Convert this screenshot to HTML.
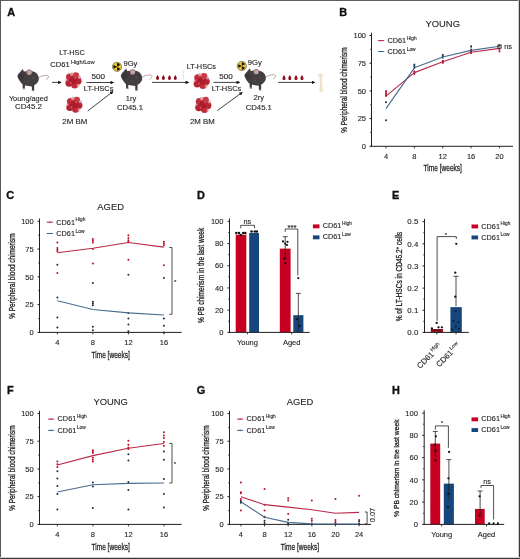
<!DOCTYPE html><html><head><meta charset="utf-8"><style>html,body{margin:0;padding:0;background:#fff;}svg{display:block;filter:blur(0.3px);}text{stroke:#231f20;stroke-width:0.12px;}.tt{stroke-width:0.3px;}</style></head><body>
<div style="position:relative;width:520px;height:559px;overflow:hidden">
<svg width="520" height="559" viewBox="0 0 520 559" font-family='"Liberation Sans", sans-serif'>
<rect x="0" y="0" width="520" height="559" fill="#fff"/>
<defs>
<g id="mouse">
  <path d="M38.6,77.6 C41.0,76.2 44.3,75.0 47.3,75.4 C49.4,75.8 48.9,78.0 46.3,79.4" fill="none" stroke="#b59896" stroke-width="0.9" stroke-linecap="round"/>
  <path d="M22.6,83.5 L22.7,88.4 L24.8,88.6 L25.0,84.0 Z" fill="#3e3a3b"/>
  <path d="M31.8,85.0 L31.9,90.3 L34.1,90.5 L34.2,84.8 Z" fill="#3e3a3b"/>
  <ellipse cx="23.9" cy="88.8" rx="1.5" ry="0.6" fill="#a98c86"/>
  <ellipse cx="33.2" cy="90.7" rx="1.5" ry="0.6" fill="#a98c86"/>
  <path d="M22.7,68.9 L23.9,71.5 L26.6,71.2 L31.5,71.0 C34.0,71.6 36.5,72.8 37.6,74.6 C38.9,76.6 39.2,79.5 38.3,81.2 C37.5,82.8 36.4,84.0 35.3,84.6 L31.5,86.4 L25.5,85.4 L21.8,83.8 C20.8,82.6 19.8,81.5 18.8,79.6 C18.0,78.2 17.2,76.6 17.5,75.3 C18.3,73.8 19.6,72.5 20.6,71.5 Z" fill="#433f40"/>
  <path d="M19.5,74 C21,73 23,73.5 24,75.5 C24.5,77.5 23,79.5 21,80 C19.5,79 18.5,76.5 19.5,74 Z" fill="#3a3637"/>
  <circle cx="33" cy="78" r="1.4" fill="#4d4849"/>
  <circle cx="28" cy="81.5" r="1.6" fill="#4b4647"/>
  <ellipse cx="29.2" cy="72.2" rx="2.7" ry="2.9" fill="#a68884"/>
  <ellipse cx="29.4" cy="72.5" rx="1.8" ry="2.0" fill="#c6a8a2"/>
</g>
<g id="cluster">
  <circle cx="-3.6" cy="-3.2" r="3.6" fill="#c02d3c"/>
  <circle cx="2.6" cy="-4.6" r="3.4" fill="#c83a48"/>
  <circle cx="4.8" cy="0.6" r="3.6" fill="#b92434"/>
  <circle cx="1.5" cy="4.6" r="3.5" fill="#c02c3a"/>
  <circle cx="-4.2" cy="2.8" r="3.6" fill="#b52232"/>
  <circle cx="0" cy="0" r="3.6" fill="#ad1c2c"/>
  <circle cx="-1.5" cy="-6.2" r="1.8" fill="#e0a0a4" opacity="0.8"/>
  <circle cx="6.2" cy="-3.0" r="1.6" fill="#dd9ca0" opacity="0.8"/>
  <circle cx="5.0" cy="5.2" r="1.6" fill="#e2a6aa" opacity="0.7"/>
  <circle cx="-6.5" cy="0" r="1.4" fill="#d88890" opacity="0.6"/>
  <circle cx="-1.2" cy="-1.2" r="1.3" fill="#a81c2c"/>
  <circle cx="2.2" cy="1.8" r="1.2" fill="#a81c2c"/>
  <circle cx="-2.6" cy="2.6" r="1.0" fill="#d25a64"/>
  <circle cx="2.0" cy="-2.4" r="1.0" fill="#d25a64"/>
</g>
<g id="rad">
  <circle cx="0" cy="0" r="4.6" fill="#e8c93c" stroke="#3a3010" stroke-width="0.5"/>
  <path d="M0,0 L3.7,0 A3.7,3.7 0 0 0 1.85,-3.2 Z" fill="#1a1608" transform="rotate(-30)"/>
  <path d="M0,0 L3.7,0 A3.7,3.7 0 0 0 1.85,-3.2 Z" fill="#1a1608" transform="rotate(90)"/>
  <path d="M0,0 L3.7,0 A3.7,3.7 0 0 0 1.85,-3.2 Z" fill="#1a1608" transform="rotate(210)"/>
  <circle cx="0" cy="0" r="0.9" fill="#e6c63a"/>
  <circle cx="0" cy="0" r="0.6" fill="#1a1608"/>
</g>
<path id="drop" d="M0,-2.7 C0.6,-1.6 1.5,-0.6 1.5,0.6 C1.5,1.6 0.8,2.3 0,2.3 C-0.8,2.3 -1.5,1.6 -1.5,0.6 C-1.5,-0.6 -0.6,-1.6 0,-2.7 Z" fill="#8e1122"/>
<marker id="ah" viewBox="0 0 6 6" refX="5" refY="3" markerWidth="3.7" markerHeight="3.5" orient="auto" markerUnits="userSpaceOnUse"><path d="M0,0 L6,3 L0,6 Z" fill="#111"/></marker>
</defs>
<use href="#mouse"/>
<use href="#mouse" transform="translate(103.4,-0.4)"/>
<use href="#mouse" transform="translate(227.0,-0.6)"/>
<use href="#cluster" transform="translate(73.2,80.3)"/>
<use href="#cluster" transform="translate(74.1,104.7)"/>
<use href="#cluster" transform="translate(201.4,81.0)"/>
<use href="#cluster" transform="translate(203.0,104.8)"/>
<use href="#rad" transform="translate(117.0,66.8)"/>
<use href="#rad" transform="translate(241.8,66.0)"/>
<use href="#drop" transform="translate(157.6,77.6)"/>
<use href="#drop" transform="translate(163.4,77.6)"/>
<use href="#drop" transform="translate(169.5,77.6)"/>
<use href="#drop" transform="translate(175.3,77.6)"/>
<use href="#drop" transform="translate(284.0,77.8)"/>
<use href="#drop" transform="translate(289.8,77.8)"/>
<use href="#drop" transform="translate(296.0,77.8)"/>
<use href="#drop" transform="translate(302.0,77.8)"/>
<line x1="52.0" y1="82.4" x2="61.0" y2="82.4" stroke="#111" stroke-width="0.8" marker-end="url(#ah)"/>
<line x1="86.5" y1="82.5" x2="113.5" y2="82.5" stroke="#111" stroke-width="0.8" marker-end="url(#ah)"/>
<line x1="87.7" y1="111.0" x2="113.0" y2="91.5" stroke="#111" stroke-width="0.8" marker-end="url(#ah)"/>
<line x1="151.9" y1="82.4" x2="188.5" y2="82.4" stroke="#111" stroke-width="0.8" marker-end="url(#ah)"/>
<line x1="213.5" y1="82.4" x2="239.5" y2="82.4" stroke="#111" stroke-width="0.8" marker-end="url(#ah)"/>
<line x1="217.3" y1="110.6" x2="242.2" y2="92.4" stroke="#111" stroke-width="0.8" marker-end="url(#ah)"/>
<line x1="278.2" y1="82.4" x2="314.7" y2="82.4" stroke="#111" stroke-width="0.8" marker-end="url(#ah)"/>
<line x1="183.3" y1="70" x2="183.3" y2="79.8" stroke="#d8d8d8" stroke-width="0.7"/>
<path d="M319.3,74.2 C320.3,73.2 321.6,73.6 321.5,74.8 C322.7,74.3 323.6,75.6 322.4,76.6 C321.6,77.3 321.4,78 321.6,80 L322.3,88.8 C323.5,89.4 323.4,91.4 322.1,91.4 C321.6,92.4 319.9,92.2 320.1,91.0 C319.3,90.6 319.4,89.5 320.1,88.9 L319.9,79.5 C319.9,77.9 319.6,77.0 318.8,76.3 C317.8,75.4 318.4,73.9 319.3,74.2 Z" fill="#efe6cc" stroke="#e2d7b8" stroke-width="0.4"/>
<text x="72.00" y="55.20" font-size="7.5" text-anchor="middle" fill="#231f20" textLength="25.7" lengthAdjust="spacingAndGlyphs" >LT-HSC</text>
<text x="50.2" y="66.9" font-size="7.5" fill="#231f20"><tspan textLength="19.6" lengthAdjust="spacingAndGlyphs">CD61</tspan><tspan x="71.0" y="64.0" font-size="5.6" textLength="23.6" lengthAdjust="spacingAndGlyphs">High/Low</tspan></text>
<text x="28.40" y="100.60" font-size="7.5" text-anchor="middle" fill="#231f20" textLength="39.0" lengthAdjust="spacingAndGlyphs" >Young/aged</text>
<text x="28.50" y="109.30" font-size="7.5" text-anchor="middle" fill="#231f20" textLength="26.9" lengthAdjust="spacingAndGlyphs" >CD45.2</text>
<text x="98.30" y="78.80" font-size="7.5" text-anchor="middle" fill="#231f20" textLength="13.5" lengthAdjust="spacingAndGlyphs" >500</text>
<text x="98.60" y="91.20" font-size="7.5" text-anchor="middle" fill="#231f20" textLength="29.6" lengthAdjust="spacingAndGlyphs" >LT-HSCs</text>
<text x="74.80" y="124.00" font-size="7.5" text-anchor="middle" fill="#231f20" textLength="25.1" lengthAdjust="spacingAndGlyphs" >2M BM</text>
<text x="130.40" y="65.60" font-size="7.5" text-anchor="middle" fill="#231f20" textLength="14.0" lengthAdjust="spacingAndGlyphs" >9Gy</text>
<text x="131.00" y="101.30" font-size="7.5" text-anchor="middle" fill="#231f20" >1ry</text>
<text x="130.00" y="110.20" font-size="7.5" text-anchor="middle" fill="#231f20" textLength="26.0" lengthAdjust="spacingAndGlyphs" >CD45.1</text>
<text x="201.40" y="68.60" font-size="7.5" text-anchor="middle" fill="#231f20" textLength="29.3" lengthAdjust="spacingAndGlyphs" >LT-HSCs</text>
<text x="202.40" y="124.00" font-size="7.5" text-anchor="middle" fill="#231f20" textLength="24.8" lengthAdjust="spacingAndGlyphs" >2M BM</text>
<text x="226.00" y="78.80" font-size="7.5" text-anchor="middle" fill="#231f20" textLength="13.5" lengthAdjust="spacingAndGlyphs" >500</text>
<text x="226.50" y="91.20" font-size="7.5" text-anchor="middle" fill="#231f20" textLength="29.6" lengthAdjust="spacingAndGlyphs" >LT-HSCs</text>
<text x="254.80" y="65.20" font-size="7.5" text-anchor="middle" fill="#231f20" textLength="14.0" lengthAdjust="spacingAndGlyphs" >9Gy</text>
<text x="258.80" y="100.30" font-size="7.5" text-anchor="middle" fill="#231f20" >2ry</text>
<text x="258.80" y="110.00" font-size="7.5" text-anchor="middle" fill="#231f20" textLength="26.3" lengthAdjust="spacingAndGlyphs" >CD45.1</text>
<text x="7.20" y="15.90" font-size="10.9" text-anchor="start" fill="#111" font-weight="bold" style="stroke:#111;stroke-width:0.35px">A</text>
<text x="339.20" y="16.00" font-size="10.9" text-anchor="start" fill="#111" font-weight="bold" style="stroke:#111;stroke-width:0.35px">B</text>
<text x="6.30" y="198.60" font-size="10.9" text-anchor="start" fill="#111" font-weight="bold" style="stroke:#111;stroke-width:0.35px">C</text>
<text x="196.90" y="198.50" font-size="10.9" text-anchor="start" fill="#111" font-weight="bold" style="stroke:#111;stroke-width:0.35px">D</text>
<text x="392.00" y="198.50" font-size="10.9" text-anchor="start" fill="#111" font-weight="bold" style="stroke:#111;stroke-width:0.35px">E</text>
<text x="7.10" y="393.60" font-size="10.9" text-anchor="start" fill="#111" font-weight="bold" style="stroke:#111;stroke-width:0.35px">F</text>
<text x="196.70" y="393.60" font-size="10.9" text-anchor="start" fill="#111" font-weight="bold" style="stroke:#111;stroke-width:0.35px">G</text>
<text x="391.90" y="394.30" font-size="10.9" text-anchor="start" fill="#111" font-weight="bold" style="stroke:#111;stroke-width:0.35px">H</text>
<text x="442.75" y="26.50" font-size="9.4" text-anchor="middle" fill="#231f20" >YOUNG</text>
<line x1="371.50" y1="32.70" x2="371.50" y2="146.75" stroke="#231f20" stroke-width="1.0" />
<line x1="369.50" y1="146.30" x2="371.50" y2="146.30" stroke="#231f20" stroke-width="1.0" />
<text x="366.00" y="148.96" font-size="7.5" text-anchor="end" fill="#231f20" >0</text>
<line x1="369.50" y1="118.60" x2="371.50" y2="118.60" stroke="#231f20" stroke-width="1.0" />
<text x="366.00" y="121.26" font-size="7.5" text-anchor="end" fill="#231f20" >25</text>
<line x1="369.50" y1="90.90" x2="371.50" y2="90.90" stroke="#231f20" stroke-width="1.0" />
<text x="366.00" y="93.56" font-size="7.5" text-anchor="end" fill="#231f20" >50</text>
<line x1="369.50" y1="63.20" x2="371.50" y2="63.20" stroke="#231f20" stroke-width="1.0" />
<text x="366.00" y="65.86" font-size="7.5" text-anchor="end" fill="#231f20" >75</text>
<line x1="369.50" y1="35.50" x2="371.50" y2="35.50" stroke="#231f20" stroke-width="1.0" />
<text x="366.00" y="38.16" font-size="7.5" text-anchor="end" fill="#231f20" >100</text>
<line x1="370.20" y1="132.45" x2="371.50" y2="132.45" stroke="#231f20" stroke-width="0.8" />
<line x1="370.20" y1="104.75" x2="371.50" y2="104.75" stroke="#231f20" stroke-width="0.8" />
<line x1="370.20" y1="77.05" x2="371.50" y2="77.05" stroke="#231f20" stroke-width="0.8" />
<line x1="370.20" y1="49.35" x2="371.50" y2="49.35" stroke="#231f20" stroke-width="0.8" />
<line x1="371.00" y1="146.30" x2="513.00" y2="146.30" stroke="#231f20" stroke-width="1.0" />
<line x1="386.00" y1="146.30" x2="386.00" y2="148.30" stroke="#231f20" stroke-width="0.9" />
<text x="386.00" y="158.80" font-size="7.5" text-anchor="middle" fill="#231f20" >4</text>
<line x1="414.38" y1="146.30" x2="414.38" y2="148.30" stroke="#231f20" stroke-width="0.9" />
<text x="414.38" y="158.80" font-size="7.5" text-anchor="middle" fill="#231f20" >8</text>
<line x1="442.75" y1="146.30" x2="442.75" y2="148.30" stroke="#231f20" stroke-width="0.9" />
<text x="442.75" y="158.80" font-size="7.5" text-anchor="middle" fill="#231f20" >12</text>
<line x1="471.12" y1="146.30" x2="471.12" y2="148.30" stroke="#231f20" stroke-width="0.9" />
<text x="471.12" y="158.80" font-size="7.5" text-anchor="middle" fill="#231f20" >16</text>
<line x1="499.50" y1="146.30" x2="499.50" y2="148.30" stroke="#231f20" stroke-width="0.9" />
<text x="499.50" y="158.80" font-size="7.5" text-anchor="middle" fill="#231f20" >20</text>
<text x="442.75" y="171.00" font-size="9.6" text-anchor="middle" fill="#231f20" textLength="38.3" lengthAdjust="spacingAndGlyphs" class="tt">Time [weeks]</text>
<text x="347.20" y="90.10" font-size="8.4" text-anchor="middle" fill="#231f20" textLength="85.3" lengthAdjust="spacingAndGlyphs" transform="rotate(-90 347.20 90.10)" class="tt">% Peripheral blood chimerism</text>
<line x1="377.90" y1="40.60" x2="384.20" y2="40.60" stroke="#b8294a" stroke-width="1.0" />
<circle cx="381.05" cy="40.60" r="0.8" fill="#b8294a"/>
<text x="387.50" y="42.90" font-size="7.3" text-anchor="start" fill="#231f20">CD61<tspan dx="0.6" dy="-3.29" font-size="4.82">High</tspan></text>
<line x1="377.90" y1="51.50" x2="384.20" y2="51.50" stroke="#4a6c8e" stroke-width="1.0" />
<circle cx="381.05" cy="51.50" r="0.8" fill="#4a6c8e"/>
<text x="387.50" y="53.80" font-size="7.3" text-anchor="start" fill="#231f20">CD61<tspan dx="0.6" dy="-3.29" font-size="4.82">Low</tspan></text>
<circle cx="386.00" cy="91.45" r="1.0" fill="#c0102a"/>
<circle cx="386.00" cy="93.45" r="1.0" fill="#c0102a"/>
<circle cx="386.00" cy="95.33" r="1.0" fill="#c0102a"/>
<circle cx="414.38" cy="71.84" r="1.0" fill="#c0102a"/>
<circle cx="414.38" cy="73.73" r="1.0" fill="#c0102a"/>
<circle cx="442.75" cy="61.09" r="1.0" fill="#c0102a"/>
<circle cx="442.75" cy="62.87" r="1.0" fill="#c0102a"/>
<circle cx="471.12" cy="51.57" r="1.0" fill="#c0102a"/>
<circle cx="471.12" cy="53.01" r="1.0" fill="#c0102a"/>
<circle cx="499.50" cy="49.46" r="1.0" fill="#c0102a"/>
<circle cx="499.50" cy="51.57" r="1.0" fill="#c0102a"/>
<circle cx="386.00" cy="102.31" r="1.0" fill="#1c2a44"/>
<circle cx="386.00" cy="120.26" r="1.0" fill="#1c2a44"/>
<circle cx="414.38" cy="64.64" r="1.0" fill="#1c2a44"/>
<circle cx="414.38" cy="66.41" r="1.0" fill="#1c2a44"/>
<circle cx="442.75" cy="54.89" r="1.0" fill="#1c2a44"/>
<circle cx="442.75" cy="56.55" r="1.0" fill="#1c2a44"/>
<circle cx="471.12" cy="46.25" r="1.0" fill="#1c2a44"/>
<circle cx="471.12" cy="50.35" r="1.0" fill="#1c2a44"/>
<circle cx="499.50" cy="45.47" r="1.0" fill="#1c2a44"/>
<polyline points="386.00,96.11 414.38,72.62 442.75,61.65 471.12,52.23 499.50,48.35" fill="none" stroke="#b8294a" stroke-width="1.1" stroke-linejoin="round"/>
<polyline points="386.00,108.63 414.38,67.85 442.75,57.00 471.12,50.35 499.50,46.25" fill="none" stroke="#4a6c8e" stroke-width="1.1" stroke-linejoin="round"/>
<line x1="414.38" y1="63.75" x2="414.38" y2="68.74" stroke="#1d4468" stroke-width="1.3" stroke-dasharray="1.3 0.5"/>
<line x1="414.38" y1="70.40" x2="414.38" y2="74.83" stroke="#a8183a" stroke-width="1.3" stroke-dasharray="1.3 0.5"/>
<line x1="442.75" y1="54.34" x2="442.75" y2="58.77" stroke="#1d4468" stroke-width="1.3" stroke-dasharray="1.3 0.5"/>
<line x1="442.75" y1="59.88" x2="442.75" y2="63.75" stroke="#a8183a" stroke-width="1.3" stroke-dasharray="1.3 0.5"/>
<line x1="471.12" y1="47.13" x2="471.12" y2="51.57" stroke="#1d4468" stroke-width="1.3" stroke-dasharray="1.3 0.5"/>
<line x1="471.12" y1="50.46" x2="471.12" y2="53.78" stroke="#a8183a" stroke-width="1.3" stroke-dasharray="1.3 0.5"/>
<line x1="386.00" y1="90.35" x2="386.00" y2="97.55" stroke="#a8183a" stroke-width="1.3" stroke-dasharray="1.3 0.5"/>
<rect x="497.90" y="44.98" width="3.2" height="3.2" fill="none" stroke="#231f20" stroke-width="0.9"/>
<text x="504.20" y="49.20" font-size="7.3" text-anchor="start" fill="#231f20" >ns</text>
<text x="110.65" y="209.80" font-size="9.4" text-anchor="middle" fill="#231f20" >AGED</text>
<line x1="39.50" y1="218.50" x2="39.50" y2="332.85" stroke="#231f20" stroke-width="1.0" />
<line x1="37.50" y1="332.40" x2="39.50" y2="332.40" stroke="#231f20" stroke-width="1.0" />
<text x="33.70" y="335.06" font-size="7.5" text-anchor="end" fill="#231f20" >0</text>
<line x1="37.50" y1="304.62" x2="39.50" y2="304.62" stroke="#231f20" stroke-width="1.0" />
<text x="33.70" y="307.29" font-size="7.5" text-anchor="end" fill="#231f20" >25</text>
<line x1="37.50" y1="276.85" x2="39.50" y2="276.85" stroke="#231f20" stroke-width="1.0" />
<text x="33.70" y="279.51" font-size="7.5" text-anchor="end" fill="#231f20" >50</text>
<line x1="37.50" y1="249.07" x2="39.50" y2="249.07" stroke="#231f20" stroke-width="1.0" />
<text x="33.70" y="251.74" font-size="7.5" text-anchor="end" fill="#231f20" >75</text>
<line x1="37.50" y1="221.30" x2="39.50" y2="221.30" stroke="#231f20" stroke-width="1.0" />
<text x="33.70" y="223.96" font-size="7.5" text-anchor="end" fill="#231f20" >100</text>
<line x1="38.20" y1="318.51" x2="39.50" y2="318.51" stroke="#231f20" stroke-width="0.8" />
<line x1="38.20" y1="290.74" x2="39.50" y2="290.74" stroke="#231f20" stroke-width="0.8" />
<line x1="38.20" y1="262.96" x2="39.50" y2="262.96" stroke="#231f20" stroke-width="0.8" />
<line x1="38.20" y1="235.19" x2="39.50" y2="235.19" stroke="#231f20" stroke-width="0.8" />
<line x1="39.00" y1="332.40" x2="181.60" y2="332.40" stroke="#231f20" stroke-width="1.0" />
<line x1="57.40" y1="332.40" x2="57.40" y2="334.40" stroke="#231f20" stroke-width="0.9" />
<text x="57.40" y="344.90" font-size="7.5" text-anchor="middle" fill="#231f20" >4</text>
<line x1="92.90" y1="332.40" x2="92.90" y2="334.40" stroke="#231f20" stroke-width="0.9" />
<text x="92.90" y="344.90" font-size="7.5" text-anchor="middle" fill="#231f20" >8</text>
<line x1="128.40" y1="332.40" x2="128.40" y2="334.40" stroke="#231f20" stroke-width="0.9" />
<text x="128.40" y="344.90" font-size="7.5" text-anchor="middle" fill="#231f20" >12</text>
<line x1="163.90" y1="332.40" x2="163.90" y2="334.40" stroke="#231f20" stroke-width="0.9" />
<text x="163.90" y="344.90" font-size="7.5" text-anchor="middle" fill="#231f20" >16</text>
<text x="110.65" y="358.10" font-size="9.6" text-anchor="middle" fill="#231f20" textLength="38.3" lengthAdjust="spacingAndGlyphs" class="tt">Time [weeks]</text>
<text x="15.10" y="276.05" font-size="8.4" text-anchor="middle" fill="#231f20" textLength="85.3" lengthAdjust="spacingAndGlyphs" transform="rotate(-90 15.10 276.05)" class="tt">% Peripheral blood chimerism</text>
<line x1="46.70" y1="222.20" x2="53.00" y2="222.20" stroke="#b8294a" stroke-width="1.0" />
<circle cx="49.85" cy="222.20" r="0.8" fill="#b8294a"/>
<text x="56.30" y="224.50" font-size="7.3" text-anchor="start" fill="#231f20">CD61<tspan dx="0.6" dy="-3.29" font-size="4.82">High</tspan></text>
<line x1="46.70" y1="233.50" x2="53.00" y2="233.50" stroke="#4a6c8e" stroke-width="1.0" />
<circle cx="49.85" cy="233.50" r="0.8" fill="#4a6c8e"/>
<text x="56.30" y="235.80" font-size="7.3" text-anchor="start" fill="#231f20">CD61<tspan dx="0.6" dy="-3.29" font-size="4.82">Low</tspan></text>
<circle cx="57.40" cy="242.41" r="1.0" fill="#c0102a"/>
<circle cx="57.40" cy="247.96" r="1.0" fill="#c0102a"/>
<circle cx="57.40" cy="249.63" r="1.0" fill="#c0102a"/>
<circle cx="57.40" cy="251.30" r="1.0" fill="#c0102a"/>
<circle cx="57.40" cy="272.96" r="1.0" fill="#c0102a"/>
<circle cx="92.90" cy="239.08" r="1.0" fill="#c0102a"/>
<circle cx="92.90" cy="240.74" r="1.0" fill="#c0102a"/>
<circle cx="92.90" cy="242.41" r="1.0" fill="#c0102a"/>
<circle cx="92.90" cy="249.07" r="1.0" fill="#c0102a"/>
<circle cx="92.90" cy="263.52" r="1.0" fill="#c0102a"/>
<circle cx="128.40" cy="235.19" r="1.0" fill="#c0102a"/>
<circle cx="128.40" cy="237.97" r="1.0" fill="#c0102a"/>
<circle cx="128.40" cy="240.19" r="1.0" fill="#c0102a"/>
<circle cx="128.40" cy="241.85" r="1.0" fill="#c0102a"/>
<circle cx="128.40" cy="259.63" r="1.0" fill="#c0102a"/>
<circle cx="163.90" cy="241.85" r="1.0" fill="#c0102a"/>
<circle cx="163.90" cy="243.52" r="1.0" fill="#c0102a"/>
<circle cx="163.90" cy="245.19" r="1.0" fill="#c0102a"/>
<circle cx="163.90" cy="265.18" r="1.0" fill="#c0102a"/>
<circle cx="57.40" cy="264.63" r="1.0" fill="#1c2a44"/>
<circle cx="57.40" cy="297.40" r="1.0" fill="#1c2a44"/>
<circle cx="57.40" cy="317.40" r="1.0" fill="#1c2a44"/>
<circle cx="57.40" cy="327.40" r="1.0" fill="#1c2a44"/>
<circle cx="92.90" cy="282.96" r="1.0" fill="#1c2a44"/>
<circle cx="92.90" cy="301.85" r="1.0" fill="#1c2a44"/>
<circle cx="92.90" cy="303.51" r="1.0" fill="#1c2a44"/>
<circle cx="92.90" cy="305.18" r="1.0" fill="#1c2a44"/>
<circle cx="92.90" cy="326.84" r="1.0" fill="#1c2a44"/>
<circle cx="92.90" cy="330.18" r="1.0" fill="#1c2a44"/>
<circle cx="128.40" cy="274.63" r="1.0" fill="#1c2a44"/>
<circle cx="128.40" cy="312.96" r="1.0" fill="#1c2a44"/>
<circle cx="128.40" cy="318.51" r="1.0" fill="#1c2a44"/>
<circle cx="128.40" cy="324.62" r="1.0" fill="#1c2a44"/>
<circle cx="128.40" cy="331.29" r="1.0" fill="#1c2a44"/>
<circle cx="163.90" cy="277.96" r="1.0" fill="#1c2a44"/>
<circle cx="163.90" cy="318.51" r="1.0" fill="#1c2a44"/>
<circle cx="163.90" cy="325.73" r="1.0" fill="#1c2a44"/>
<circle cx="163.90" cy="332.40" r="1.0" fill="#1c2a44"/>
<polyline points="57.40,252.74 92.90,248.30 128.40,242.52 163.90,247.08" fill="none" stroke="#b8294a" stroke-width="1.1" stroke-linejoin="round"/>
<polyline points="57.40,300.74 92.90,309.51 128.40,312.85 163.90,315.07" fill="none" stroke="#4a6c8e" stroke-width="1.1" stroke-linejoin="round"/>
<polyline points="169.30,247.50 172.00,247.50 172.00,314.30 169.30,314.30" fill="none" stroke="#231f20" stroke-width="0.8"/>
<text x="175.10" y="284.20" font-size="6.0" text-anchor="middle" fill="#231f20" >*</text>
<text x="110.65" y="404.70" font-size="9.4" text-anchor="middle" fill="#231f20" >YOUNG</text>
<line x1="39.50" y1="410.70" x2="39.50" y2="524.85" stroke="#231f20" stroke-width="1.0" />
<line x1="37.50" y1="524.40" x2="39.50" y2="524.40" stroke="#231f20" stroke-width="1.0" />
<text x="33.70" y="527.06" font-size="7.5" text-anchor="end" fill="#231f20" >0</text>
<line x1="37.50" y1="496.67" x2="39.50" y2="496.67" stroke="#231f20" stroke-width="1.0" />
<text x="33.70" y="499.34" font-size="7.5" text-anchor="end" fill="#231f20" >25</text>
<line x1="37.50" y1="468.95" x2="39.50" y2="468.95" stroke="#231f20" stroke-width="1.0" />
<text x="33.70" y="471.61" font-size="7.5" text-anchor="end" fill="#231f20" >50</text>
<line x1="37.50" y1="441.23" x2="39.50" y2="441.23" stroke="#231f20" stroke-width="1.0" />
<text x="33.70" y="443.89" font-size="7.5" text-anchor="end" fill="#231f20" >75</text>
<line x1="37.50" y1="413.50" x2="39.50" y2="413.50" stroke="#231f20" stroke-width="1.0" />
<text x="33.70" y="416.16" font-size="7.5" text-anchor="end" fill="#231f20" >100</text>
<line x1="38.20" y1="510.54" x2="39.50" y2="510.54" stroke="#231f20" stroke-width="0.8" />
<line x1="38.20" y1="482.81" x2="39.50" y2="482.81" stroke="#231f20" stroke-width="0.8" />
<line x1="38.20" y1="455.09" x2="39.50" y2="455.09" stroke="#231f20" stroke-width="0.8" />
<line x1="38.20" y1="427.36" x2="39.50" y2="427.36" stroke="#231f20" stroke-width="0.8" />
<line x1="39.00" y1="524.40" x2="181.60" y2="524.40" stroke="#231f20" stroke-width="1.0" />
<line x1="57.40" y1="524.40" x2="57.40" y2="526.40" stroke="#231f20" stroke-width="0.9" />
<text x="57.40" y="536.90" font-size="7.5" text-anchor="middle" fill="#231f20" >4</text>
<line x1="92.90" y1="524.40" x2="92.90" y2="526.40" stroke="#231f20" stroke-width="0.9" />
<text x="92.90" y="536.90" font-size="7.5" text-anchor="middle" fill="#231f20" >8</text>
<line x1="128.40" y1="524.40" x2="128.40" y2="526.40" stroke="#231f20" stroke-width="0.9" />
<text x="128.40" y="536.90" font-size="7.5" text-anchor="middle" fill="#231f20" >12</text>
<line x1="163.90" y1="524.40" x2="163.90" y2="526.40" stroke="#231f20" stroke-width="0.9" />
<text x="163.90" y="536.90" font-size="7.5" text-anchor="middle" fill="#231f20" >16</text>
<text x="110.65" y="550.10" font-size="9.6" text-anchor="middle" fill="#231f20" textLength="38.3" lengthAdjust="spacingAndGlyphs" class="tt">Time [weeks]</text>
<text x="15.10" y="468.15" font-size="8.4" text-anchor="middle" fill="#231f20" textLength="85.3" lengthAdjust="spacingAndGlyphs" transform="rotate(-90 15.10 468.15)" class="tt">% Peripheral blood chimerism</text>
<line x1="48.00" y1="419.10" x2="54.30" y2="419.10" stroke="#b8294a" stroke-width="1.0" />
<circle cx="51.15" cy="419.10" r="0.8" fill="#b8294a"/>
<text x="57.60" y="421.40" font-size="7.3" text-anchor="start" fill="#231f20">CD61<tspan dx="0.6" dy="-3.29" font-size="4.82">High</tspan></text>
<line x1="48.00" y1="430.40" x2="54.30" y2="430.40" stroke="#4a6c8e" stroke-width="1.0" />
<circle cx="51.15" cy="430.40" r="0.8" fill="#4a6c8e"/>
<text x="57.60" y="432.70" font-size="7.3" text-anchor="start" fill="#231f20">CD61<tspan dx="0.6" dy="-3.29" font-size="4.82">Low</tspan></text>
<circle cx="57.40" cy="461.52" r="1.0" fill="#c0102a"/>
<circle cx="57.40" cy="464.29" r="1.0" fill="#c0102a"/>
<circle cx="57.40" cy="466.95" r="1.0" fill="#c0102a"/>
<circle cx="92.90" cy="450.21" r="1.0" fill="#c0102a"/>
<circle cx="92.90" cy="451.54" r="1.0" fill="#c0102a"/>
<circle cx="92.90" cy="452.98" r="1.0" fill="#c0102a"/>
<circle cx="92.90" cy="457.75" r="1.0" fill="#c0102a"/>
<circle cx="92.90" cy="459.63" r="1.0" fill="#c0102a"/>
<circle cx="92.90" cy="461.52" r="1.0" fill="#c0102a"/>
<circle cx="128.40" cy="440.78" r="1.0" fill="#c0102a"/>
<circle cx="128.40" cy="444.77" r="1.0" fill="#c0102a"/>
<circle cx="128.40" cy="447.55" r="1.0" fill="#c0102a"/>
<circle cx="128.40" cy="448.88" r="1.0" fill="#c0102a"/>
<circle cx="163.90" cy="432.24" r="1.0" fill="#c0102a"/>
<circle cx="163.90" cy="435.46" r="1.0" fill="#c0102a"/>
<circle cx="163.90" cy="438.12" r="1.0" fill="#c0102a"/>
<circle cx="163.90" cy="442.11" r="1.0" fill="#c0102a"/>
<circle cx="163.90" cy="445.66" r="1.0" fill="#c0102a"/>
<circle cx="57.40" cy="471.28" r="1.0" fill="#1c2a44"/>
<circle cx="57.40" cy="478.60" r="1.0" fill="#1c2a44"/>
<circle cx="57.40" cy="486.03" r="1.0" fill="#1c2a44"/>
<circle cx="57.40" cy="493.90" r="1.0" fill="#1c2a44"/>
<circle cx="57.40" cy="509.54" r="1.0" fill="#1c2a44"/>
<circle cx="92.90" cy="482.59" r="1.0" fill="#1c2a44"/>
<circle cx="92.90" cy="486.58" r="1.0" fill="#1c2a44"/>
<circle cx="92.90" cy="508.10" r="1.0" fill="#1c2a44"/>
<circle cx="128.40" cy="454.20" r="1.0" fill="#1c2a44"/>
<circle cx="128.40" cy="460.41" r="1.0" fill="#1c2a44"/>
<circle cx="128.40" cy="482.04" r="1.0" fill="#1c2a44"/>
<circle cx="128.40" cy="489.91" r="1.0" fill="#1c2a44"/>
<circle cx="128.40" cy="509.54" r="1.0" fill="#1c2a44"/>
<circle cx="163.90" cy="451.54" r="1.0" fill="#1c2a44"/>
<circle cx="163.90" cy="459.63" r="1.0" fill="#1c2a44"/>
<circle cx="163.90" cy="479.04" r="1.0" fill="#1c2a44"/>
<circle cx="163.90" cy="494.12" r="1.0" fill="#1c2a44"/>
<circle cx="163.90" cy="507.43" r="1.0" fill="#1c2a44"/>
<polyline points="57.40,465.07 92.90,455.64 128.40,448.32 163.90,443.55" fill="none" stroke="#b8294a" stroke-width="1.1" stroke-linejoin="round"/>
<polyline points="57.40,492.02 92.90,484.81 128.40,483.37 163.90,483.03" fill="none" stroke="#4a6c8e" stroke-width="1.1" stroke-linejoin="round"/>
<polyline points="169.30,443.50 172.00,443.50 172.00,483.00 169.30,483.00" fill="none" stroke="#231f20" stroke-width="0.8"/>
<text x="174.80" y="465.80" font-size="6.0" text-anchor="middle" fill="#231f20" >*</text>
<text x="300.00" y="404.70" font-size="9.4" text-anchor="middle" fill="#231f20" >AGED</text>
<line x1="229.50" y1="410.70" x2="229.50" y2="524.85" stroke="#231f20" stroke-width="1.0" />
<line x1="227.50" y1="524.40" x2="229.50" y2="524.40" stroke="#231f20" stroke-width="1.0" />
<text x="223.70" y="527.06" font-size="7.5" text-anchor="end" fill="#231f20" >0</text>
<line x1="227.50" y1="496.67" x2="229.50" y2="496.67" stroke="#231f20" stroke-width="1.0" />
<text x="223.70" y="499.34" font-size="7.5" text-anchor="end" fill="#231f20" >25</text>
<line x1="227.50" y1="468.95" x2="229.50" y2="468.95" stroke="#231f20" stroke-width="1.0" />
<text x="223.70" y="471.61" font-size="7.5" text-anchor="end" fill="#231f20" >50</text>
<line x1="227.50" y1="441.23" x2="229.50" y2="441.23" stroke="#231f20" stroke-width="1.0" />
<text x="223.70" y="443.89" font-size="7.5" text-anchor="end" fill="#231f20" >75</text>
<line x1="227.50" y1="413.50" x2="229.50" y2="413.50" stroke="#231f20" stroke-width="1.0" />
<text x="223.70" y="416.16" font-size="7.5" text-anchor="end" fill="#231f20" >100</text>
<line x1="228.20" y1="510.54" x2="229.50" y2="510.54" stroke="#231f20" stroke-width="0.8" />
<line x1="228.20" y1="482.81" x2="229.50" y2="482.81" stroke="#231f20" stroke-width="0.8" />
<line x1="228.20" y1="455.09" x2="229.50" y2="455.09" stroke="#231f20" stroke-width="0.8" />
<line x1="228.20" y1="427.36" x2="229.50" y2="427.36" stroke="#231f20" stroke-width="0.8" />
<line x1="229.00" y1="524.40" x2="371.00" y2="524.40" stroke="#231f20" stroke-width="1.0" />
<line x1="240.90" y1="524.40" x2="240.90" y2="526.40" stroke="#231f20" stroke-width="0.9" />
<text x="240.90" y="536.90" font-size="7.5" text-anchor="middle" fill="#231f20" >4</text>
<line x1="264.54" y1="524.40" x2="264.54" y2="526.40" stroke="#231f20" stroke-width="0.9" />
<text x="264.54" y="536.90" font-size="7.5" text-anchor="middle" fill="#231f20" >8</text>
<line x1="288.18" y1="524.40" x2="288.18" y2="526.40" stroke="#231f20" stroke-width="0.9" />
<text x="288.18" y="536.90" font-size="7.5" text-anchor="middle" fill="#231f20" >12</text>
<line x1="311.82" y1="524.40" x2="311.82" y2="526.40" stroke="#231f20" stroke-width="0.9" />
<text x="311.82" y="536.90" font-size="7.5" text-anchor="middle" fill="#231f20" >16</text>
<line x1="335.46" y1="524.40" x2="335.46" y2="526.40" stroke="#231f20" stroke-width="0.9" />
<text x="335.46" y="536.90" font-size="7.5" text-anchor="middle" fill="#231f20" >20</text>
<line x1="359.10" y1="524.40" x2="359.10" y2="526.40" stroke="#231f20" stroke-width="0.9" />
<text x="359.10" y="536.90" font-size="7.5" text-anchor="middle" fill="#231f20" >24</text>
<text x="300.00" y="550.10" font-size="9.6" text-anchor="middle" fill="#231f20" textLength="38.3" lengthAdjust="spacingAndGlyphs" class="tt">Time [weeks]</text>
<text x="208.70" y="468.15" font-size="8.4" text-anchor="middle" fill="#231f20" textLength="85.3" lengthAdjust="spacingAndGlyphs" transform="rotate(-90 208.70 468.15)" class="tt">% Peripheral blood chimerism</text>
<line x1="237.00" y1="419.10" x2="243.30" y2="419.10" stroke="#b8294a" stroke-width="1.0" />
<circle cx="240.15" cy="419.10" r="0.8" fill="#b8294a"/>
<text x="246.60" y="421.40" font-size="7.3" text-anchor="start" fill="#231f20">CD61<tspan dx="0.6" dy="-3.29" font-size="4.82">High</tspan></text>
<line x1="237.00" y1="430.40" x2="243.30" y2="430.40" stroke="#4a6c8e" stroke-width="1.0" />
<circle cx="240.15" cy="430.40" r="0.8" fill="#4a6c8e"/>
<text x="246.60" y="432.70" font-size="7.3" text-anchor="start" fill="#231f20">CD61<tspan dx="0.6" dy="-3.29" font-size="4.82">Low</tspan></text>
<circle cx="240.90" cy="482.48" r="1.0" fill="#c0102a"/>
<circle cx="240.90" cy="492.24" r="1.0" fill="#c0102a"/>
<circle cx="240.90" cy="493.35" r="1.0" fill="#c0102a"/>
<circle cx="240.90" cy="498.89" r="1.0" fill="#c0102a"/>
<circle cx="240.90" cy="501.11" r="1.0" fill="#c0102a"/>
<circle cx="240.90" cy="510.54" r="1.0" fill="#c0102a"/>
<circle cx="264.54" cy="488.91" r="1.0" fill="#c0102a"/>
<circle cx="264.54" cy="504.66" r="1.0" fill="#c0102a"/>
<circle cx="264.54" cy="510.54" r="1.0" fill="#c0102a"/>
<circle cx="264.54" cy="516.75" r="1.0" fill="#c0102a"/>
<circle cx="288.18" cy="498.23" r="1.0" fill="#c0102a"/>
<circle cx="288.18" cy="500.56" r="1.0" fill="#c0102a"/>
<circle cx="288.18" cy="513.98" r="1.0" fill="#c0102a"/>
<circle cx="311.82" cy="500.56" r="1.0" fill="#c0102a"/>
<circle cx="311.82" cy="518.74" r="1.0" fill="#c0102a"/>
<circle cx="311.82" cy="520.63" r="1.0" fill="#c0102a"/>
<circle cx="335.46" cy="498.89" r="1.0" fill="#c0102a"/>
<circle cx="335.46" cy="520.07" r="1.0" fill="#c0102a"/>
<circle cx="335.46" cy="522.07" r="1.0" fill="#c0102a"/>
<circle cx="359.10" cy="495.79" r="1.0" fill="#c0102a"/>
<circle cx="359.10" cy="520.07" r="1.0" fill="#c0102a"/>
<circle cx="240.90" cy="501.44" r="1.0" fill="#1c2a44"/>
<circle cx="240.90" cy="502.77" r="1.0" fill="#1c2a44"/>
<circle cx="264.54" cy="517.19" r="1.0" fill="#1c2a44"/>
<circle cx="264.54" cy="520.74" r="1.0" fill="#1c2a44"/>
<circle cx="264.54" cy="522.96" r="1.0" fill="#1c2a44"/>
<circle cx="288.18" cy="519.74" r="1.0" fill="#1c2a44"/>
<circle cx="288.18" cy="522.74" r="1.0" fill="#1c2a44"/>
<circle cx="288.18" cy="523.62" r="1.0" fill="#1c2a44"/>
<circle cx="311.82" cy="523.51" r="1.0" fill="#1c2a44"/>
<circle cx="335.46" cy="523.51" r="1.0" fill="#1c2a44"/>
<circle cx="359.10" cy="521.52" r="1.0" fill="#1c2a44"/>
<circle cx="359.10" cy="523.85" r="1.0" fill="#1c2a44"/>
<polyline points="240.90,496.67 264.54,504.66 288.18,507.10 311.82,509.76 335.46,513.31 359.10,512.42" fill="none" stroke="#b8294a" stroke-width="1.1" stroke-linejoin="round"/>
<polyline points="240.90,501.67 264.54,517.19 288.18,522.40 311.82,523.85 335.46,523.96 359.10,523.96" fill="none" stroke="#4a6c8e" stroke-width="1.1" stroke-linejoin="round"/>
<polyline points="364.80,512.00 367.10,512.00 367.10,523.80 364.80,523.80" fill="none" stroke="#231f20" stroke-width="0.8"/>
<text x="374.60" y="515.00" font-size="7.4" text-anchor="middle" fill="#231f20" transform="rotate(-90 374.60 515.00)" >0.07</text>
<line x1="229.50" y1="218.50" x2="229.50" y2="332.85" stroke="#231f20" stroke-width="1.0" />
<line x1="227.50" y1="332.40" x2="229.50" y2="332.40" stroke="#231f20" stroke-width="1.0" />
<text x="223.40" y="335.06" font-size="7.5" text-anchor="end" fill="#231f20" >0</text>
<line x1="227.50" y1="310.18" x2="229.50" y2="310.18" stroke="#231f20" stroke-width="1.0" />
<text x="223.40" y="312.84" font-size="7.5" text-anchor="end" fill="#231f20" >20</text>
<line x1="227.50" y1="287.96" x2="229.50" y2="287.96" stroke="#231f20" stroke-width="1.0" />
<text x="223.40" y="290.62" font-size="7.5" text-anchor="end" fill="#231f20" >40</text>
<line x1="227.50" y1="265.74" x2="229.50" y2="265.74" stroke="#231f20" stroke-width="1.0" />
<text x="223.40" y="268.40" font-size="7.5" text-anchor="end" fill="#231f20" >60</text>
<line x1="227.50" y1="243.52" x2="229.50" y2="243.52" stroke="#231f20" stroke-width="1.0" />
<text x="223.40" y="246.18" font-size="7.5" text-anchor="end" fill="#231f20" >80</text>
<line x1="227.50" y1="221.30" x2="229.50" y2="221.30" stroke="#231f20" stroke-width="1.0" />
<text x="223.40" y="223.96" font-size="7.5" text-anchor="end" fill="#231f20" >100</text>
<line x1="228.20" y1="321.29" x2="229.50" y2="321.29" stroke="#231f20" stroke-width="0.8" />
<line x1="228.20" y1="299.07" x2="229.50" y2="299.07" stroke="#231f20" stroke-width="0.8" />
<line x1="228.20" y1="276.85" x2="229.50" y2="276.85" stroke="#231f20" stroke-width="0.8" />
<line x1="228.20" y1="254.63" x2="229.50" y2="254.63" stroke="#231f20" stroke-width="0.8" />
<line x1="228.20" y1="232.41" x2="229.50" y2="232.41" stroke="#231f20" stroke-width="0.8" />
<rect x="235.70" y="234.74" width="10.60" height="97.66" fill="#c70021" />
<rect x="249.20" y="232.97" width="9.80" height="99.43" fill="#17467c" />
<rect x="279.80" y="248.63" width="10.80" height="83.77" fill="#c70021" />
<rect x="293.30" y="315.18" width="10.10" height="17.22" fill="#17467c" />
<line x1="229.00" y1="332.40" x2="309.60" y2="332.40" stroke="#231f20" stroke-width="1.0" />
<line x1="247.40" y1="332.40" x2="247.40" y2="334.40" stroke="#231f20" stroke-width="0.9" />
<text x="247.40" y="344.90" font-size="7.5" text-anchor="middle" fill="#231f20" >Young</text>
<line x1="291.70" y1="332.40" x2="291.70" y2="334.40" stroke="#231f20" stroke-width="0.9" />
<text x="291.70" y="344.90" font-size="7.5" text-anchor="middle" fill="#231f20" >Aged</text>
<text x="204.20" y="275.40" font-size="8.4" text-anchor="middle" fill="#231f20" textLength="95.4" lengthAdjust="spacingAndGlyphs" transform="rotate(-90 204.20 275.40)" class="tt">% PB chimerism in the last week</text>
<circle cx="236.30" cy="233.00" r="1.25" fill="#111"/>
<circle cx="239.00" cy="233.00" r="1.25" fill="#111"/>
<circle cx="243.20" cy="233.00" r="1.25" fill="#111"/>
<circle cx="245.30" cy="233.00" r="1.25" fill="#111"/>
<circle cx="240.80" cy="235.00" r="1.2" fill="#111"/>
<circle cx="251.50" cy="231.60" r="1.25" fill="#111"/>
<circle cx="254.80" cy="231.60" r="1.25" fill="#111"/>
<circle cx="256.80" cy="231.60" r="1.25" fill="#111"/>
<line x1="285.20" y1="236.70" x2="285.20" y2="258.00" stroke="#231f20" stroke-width="0.8" />
<line x1="282.70" y1="236.70" x2="287.70" y2="236.70" stroke="#231f20" stroke-width="0.8" />
<circle cx="283.00" cy="241.40" r="1.1" fill="#111"/>
<circle cx="287.50" cy="241.80" r="1.1" fill="#111"/>
<circle cx="285.20" cy="243.70" r="1.1" fill="#111"/>
<circle cx="287.00" cy="245.00" r="1.1" fill="#111"/>
<circle cx="284.50" cy="258.70" r="1.1" fill="#111"/>
<circle cx="285.50" cy="263.10" r="1.1" fill="#111"/>
<line x1="298.30" y1="293.40" x2="298.30" y2="332.00" stroke="#231f20" stroke-width="0.8" />
<line x1="295.80" y1="293.40" x2="300.80" y2="293.40" stroke="#231f20" stroke-width="0.8" />
<circle cx="298.30" cy="278.10" r="1.1" fill="#111"/>
<circle cx="297.00" cy="319.00" r="1.1" fill="#111"/>
<circle cx="299.50" cy="325.80" r="1.1" fill="#111"/>
<polyline points="240.70,228.20 240.70,225.30 254.50,225.30 254.50,228.20" fill="none" stroke="#231f20" stroke-width="0.8"/>
<text x="247.40" y="223.80" font-size="7.3" text-anchor="middle" fill="#231f20" >ns</text>
<polyline points="285.20,231.80 285.20,229.00 297.80,229.00 297.80,275.50" fill="none" stroke="#231f20" stroke-width="0.8"/>
<text x="292.00" y="229.90" font-size="7.8" text-anchor="middle" fill="#231f20" >***</text>
<rect x="312.90" y="224.40" width="6.60" height="3.90" fill="#c70021" />
<text x="322.70" y="228.40" font-size="7.3" text-anchor="start" fill="#231f20">CD61<tspan dx="0.6" dy="-3.29" font-size="4.82">High</tspan></text>
<rect x="312.90" y="235.40" width="6.60" height="3.90" fill="#17467c" />
<text x="322.70" y="239.40" font-size="7.3" text-anchor="start" fill="#231f20">CD61<tspan dx="0.6" dy="-3.29" font-size="4.82">Low</tspan></text>
<line x1="424.50" y1="218.85" x2="424.50" y2="332.85" stroke="#231f20" stroke-width="1.0" />
<line x1="422.50" y1="332.40" x2="424.50" y2="332.40" stroke="#231f20" stroke-width="1.0" />
<text x="418.30" y="335.20" font-size="7.9" text-anchor="end" fill="#231f20" >0.0</text>
<line x1="422.50" y1="310.25" x2="424.50" y2="310.25" stroke="#231f20" stroke-width="1.0" />
<text x="418.30" y="313.05" font-size="7.9" text-anchor="end" fill="#231f20" >0.1</text>
<line x1="422.50" y1="288.10" x2="424.50" y2="288.10" stroke="#231f20" stroke-width="1.0" />
<text x="418.30" y="290.90" font-size="7.9" text-anchor="end" fill="#231f20" >0.2</text>
<line x1="422.50" y1="265.95" x2="424.50" y2="265.95" stroke="#231f20" stroke-width="1.0" />
<text x="418.30" y="268.75" font-size="7.9" text-anchor="end" fill="#231f20" >0.3</text>
<line x1="422.50" y1="243.80" x2="424.50" y2="243.80" stroke="#231f20" stroke-width="1.0" />
<text x="418.30" y="246.60" font-size="7.9" text-anchor="end" fill="#231f20" >0.4</text>
<line x1="422.50" y1="221.65" x2="424.50" y2="221.65" stroke="#231f20" stroke-width="1.0" />
<text x="418.30" y="224.45" font-size="7.9" text-anchor="end" fill="#231f20" >0.5</text>
<line x1="423.20" y1="321.32" x2="424.50" y2="321.32" stroke="#231f20" stroke-width="0.8" />
<line x1="423.20" y1="299.17" x2="424.50" y2="299.17" stroke="#231f20" stroke-width="0.8" />
<line x1="423.20" y1="277.02" x2="424.50" y2="277.02" stroke="#231f20" stroke-width="0.8" />
<line x1="423.20" y1="254.88" x2="424.50" y2="254.88" stroke="#231f20" stroke-width="0.8" />
<line x1="423.20" y1="232.72" x2="424.50" y2="232.72" stroke="#231f20" stroke-width="0.8" />
<rect x="430.80" y="329.08" width="12.30" height="3.32" fill="#9a1226" />
<rect x="450.40" y="307.15" width="11.40" height="25.25" fill="#17467c" />
<line x1="424.00" y1="332.40" x2="468.80" y2="332.40" stroke="#231f20" stroke-width="1.0" />
<line x1="436.90" y1="332.40" x2="436.90" y2="334.40" stroke="#231f20" stroke-width="0.9" />
<line x1="456.00" y1="332.40" x2="456.00" y2="334.40" stroke="#231f20" stroke-width="0.9" />
<line x1="456.00" y1="276.30" x2="456.00" y2="306.30" stroke="#231f20" stroke-width="0.8" />
<line x1="453.50" y1="276.30" x2="458.50" y2="276.30" stroke="#231f20" stroke-width="0.8" />
<circle cx="456.30" cy="243.80" r="1.15" fill="#111"/>
<circle cx="455.30" cy="272.70" r="1.15" fill="#111"/>
<circle cx="455.30" cy="296.70" r="1.15" fill="#111"/>
<circle cx="455.80" cy="311.20" r="1.1" fill="#0c2240"/>
<circle cx="453.20" cy="320.80" r="1.1" fill="#0c2240"/>
<circle cx="458.50" cy="322.30" r="1.1" fill="#0c2240"/>
<circle cx="455.80" cy="326.50" r="1.1" fill="#0c2240"/>
<circle cx="459.00" cy="328.80" r="1.1" fill="#0c2240"/>
<circle cx="452.00" cy="329.50" r="1.1" fill="#0c2240"/>
<circle cx="436.70" cy="322.90" r="1.15" fill="#111"/>
<circle cx="431.90" cy="328.50" r="1.15" fill="#111"/>
<circle cx="438.50" cy="327.30" r="1.15" fill="#111"/>
<circle cx="441.90" cy="327.30" r="1.15" fill="#111"/>
<circle cx="434.50" cy="330.00" r="1.1" fill="#5a0a14"/>
<circle cx="437.50" cy="330.30" r="1.1" fill="#5a0a14"/>
<circle cx="440.00" cy="330.00" r="1.1" fill="#5a0a14"/>
<polyline points="437.1,320.8 437.1,236.6 456.3,236.6 456.3,239.0" fill="none" stroke="#231f20" stroke-width="0.8"/>
<text x="446.00" y="236.60" font-size="6.0" text-anchor="middle" fill="#231f20" >*</text>
<rect x="471.50" y="224.50" width="6.60" height="3.90" fill="#c70021" />
<text x="481.30" y="228.50" font-size="7.3" text-anchor="start" fill="#231f20">CD61<tspan dx="0.6" dy="-3.29" font-size="4.82">High</tspan></text>
<rect x="471.50" y="235.50" width="6.60" height="3.90" fill="#17467c" />
<text x="481.30" y="239.50" font-size="7.3" text-anchor="start" fill="#231f20">CD61<tspan dx="0.6" dy="-3.29" font-size="4.82">Low</tspan></text>
<text x="401.60" y="276.60" font-size="8.6" text-anchor="middle" fill="#231f20" textLength="89.5" lengthAdjust="spacingAndGlyphs" transform="rotate(-90 401.60 276.60)" class="tt">% of LT-HSCs in CD45.2<tspan dy="-2.5" font-size="5.5">+</tspan><tspan dy="2.5"> cells</tspan></text>
<text x="442.30" y="346.80" font-size="7.9" text-anchor="end" fill="#231f20" transform="rotate(-45 442.30 346.80)">CD61<tspan dx="0.6" dy="-3.56" font-size="5.21">High</tspan></text>
<text x="460.60" y="346.00" font-size="7.9" text-anchor="end" fill="#231f20" transform="rotate(-45 460.60 346.00)">CD61<tspan dx="0.6" dy="-3.56" font-size="5.21">Low</tspan></text>
<line x1="424.20" y1="410.30" x2="424.20" y2="524.85" stroke="#231f20" stroke-width="1.0" />
<line x1="422.20" y1="524.40" x2="424.20" y2="524.40" stroke="#231f20" stroke-width="1.0" />
<text x="418.00" y="527.10" font-size="7.6" text-anchor="end" fill="#231f20" >0</text>
<line x1="422.20" y1="502.14" x2="424.20" y2="502.14" stroke="#231f20" stroke-width="1.0" />
<text x="418.00" y="504.84" font-size="7.6" text-anchor="end" fill="#231f20" >20</text>
<line x1="422.20" y1="479.88" x2="424.20" y2="479.88" stroke="#231f20" stroke-width="1.0" />
<text x="418.00" y="482.58" font-size="7.6" text-anchor="end" fill="#231f20" >40</text>
<line x1="422.20" y1="457.62" x2="424.20" y2="457.62" stroke="#231f20" stroke-width="1.0" />
<text x="418.00" y="460.32" font-size="7.6" text-anchor="end" fill="#231f20" >60</text>
<line x1="422.20" y1="435.36" x2="424.20" y2="435.36" stroke="#231f20" stroke-width="1.0" />
<text x="418.00" y="438.06" font-size="7.6" text-anchor="end" fill="#231f20" >80</text>
<line x1="422.20" y1="413.10" x2="424.20" y2="413.10" stroke="#231f20" stroke-width="1.0" />
<text x="418.00" y="415.80" font-size="7.6" text-anchor="end" fill="#231f20" >100</text>
<line x1="422.90" y1="513.27" x2="424.20" y2="513.27" stroke="#231f20" stroke-width="0.8" />
<line x1="422.90" y1="491.01" x2="424.20" y2="491.01" stroke="#231f20" stroke-width="0.8" />
<line x1="422.90" y1="468.75" x2="424.20" y2="468.75" stroke="#231f20" stroke-width="0.8" />
<line x1="422.90" y1="446.49" x2="424.20" y2="446.49" stroke="#231f20" stroke-width="0.8" />
<line x1="422.90" y1="424.23" x2="424.20" y2="424.23" stroke="#231f20" stroke-width="0.8" />
<rect x="430.30" y="443.60" width="9.90" height="80.80" fill="#c70021" />
<rect x="443.80" y="483.66" width="10.10" height="40.74" fill="#17467c" />
<rect x="475.00" y="508.93" width="9.70" height="15.47" fill="#c70021" />
<line x1="423.70" y1="524.40" x2="504.20" y2="524.40" stroke="#231f20" stroke-width="1.0" />
<line x1="441.70" y1="524.40" x2="441.70" y2="526.40" stroke="#231f20" stroke-width="0.9" />
<text x="441.70" y="536.90" font-size="7.5" text-anchor="middle" fill="#231f20" >Young</text>
<line x1="486.50" y1="524.40" x2="486.50" y2="526.40" stroke="#231f20" stroke-width="0.9" />
<text x="486.50" y="536.90" font-size="7.5" text-anchor="middle" fill="#231f20" >Aged</text>
<line x1="435.30" y1="431.40" x2="435.30" y2="456.70" stroke="#231f20" stroke-width="0.8" />
<line x1="432.80" y1="431.40" x2="437.80" y2="431.40" stroke="#231f20" stroke-width="0.8" />
<line x1="448.90" y1="459.60" x2="448.90" y2="500.00" stroke="#231f20" stroke-width="0.8" />
<line x1="446.40" y1="459.60" x2="451.40" y2="459.60" stroke="#231f20" stroke-width="0.8" />
<line x1="480.10" y1="491.00" x2="480.10" y2="515.00" stroke="#231f20" stroke-width="0.8" />
<line x1="477.60" y1="491.00" x2="482.60" y2="491.00" stroke="#231f20" stroke-width="0.8" />
<circle cx="435.90" cy="436.30" r="1.1" fill="#111"/>
<circle cx="435.00" cy="444.70" r="1.1" fill="#111"/>
<circle cx="435.50" cy="450.70" r="1.1" fill="#111"/>
<circle cx="435.40" cy="460.30" r="1.1" fill="#111"/>
<circle cx="449.10" cy="451.90" r="1.1" fill="#111"/>
<circle cx="448.40" cy="478.30" r="1.1" fill="#111"/>
<circle cx="448.40" cy="493.90" r="1.1" fill="#111"/>
<circle cx="448.00" cy="507.20" r="1.1" fill="#111"/>
<circle cx="479.60" cy="496.30" r="1.1" fill="#111"/>
<circle cx="479.60" cy="515.60" r="1.1" fill="#111"/>
<circle cx="489.20" cy="523.40" r="1.1" fill="#111"/>
<circle cx="493.60" cy="523.40" r="1.1" fill="#111"/>
<circle cx="497.90" cy="523.40" r="1.1" fill="#111"/>
<polyline points="435.40,429.50 435.40,425.90 448.40,425.90 448.40,447.80" fill="none" stroke="#231f20" stroke-width="0.8"/>
<text x="441.90" y="425.30" font-size="6.0" text-anchor="middle" fill="#231f20" >*</text>
<polyline points="481.00,487.90 481.00,485.50 493.60,485.50 493.60,519.50" fill="none" stroke="#231f20" stroke-width="0.8"/>
<text x="487.00" y="483.80" font-size="7.3" text-anchor="middle" fill="#231f20" >ns</text>
<rect x="471.50" y="417.40" width="6.60" height="3.90" fill="#c70021" />
<text x="481.30" y="421.40" font-size="7.3" text-anchor="start" fill="#231f20">CD61<tspan dx="0.6" dy="-3.29" font-size="4.82">High</tspan></text>
<rect x="471.50" y="428.10" width="6.60" height="3.90" fill="#17467c" />
<text x="481.30" y="432.10" font-size="7.3" text-anchor="start" fill="#231f20">CD61<tspan dx="0.6" dy="-3.29" font-size="4.82">Low</tspan></text>
<text x="399.30" y="468.20" font-size="8.0" text-anchor="middle" fill="#231f20" textLength="97.4" lengthAdjust="spacingAndGlyphs" transform="rotate(-90 399.30 468.20)" class="tt">% PB chimerism in the last week</text>
</svg>
<div style="position:absolute;left:0;top:0;width:520px;height:1px;background:#5e5e5e"></div>
<div style="position:absolute;left:0;top:0;width:1px;height:559px;background:#585858"></div>
<div style="position:absolute;left:518px;top:0;width:1px;height:559px;background:#cfcfcf"></div>
<div style="position:absolute;left:519px;top:0;width:1px;height:559px;background:#3a3a3a"></div>
<div style="position:absolute;left:0;top:557px;width:520px;height:1px;background:#cfcfcf"></div>
<div style="position:absolute;left:0;top:558px;width:520px;height:1px;background:#3a3a3a"></div>
</div></body></html>
